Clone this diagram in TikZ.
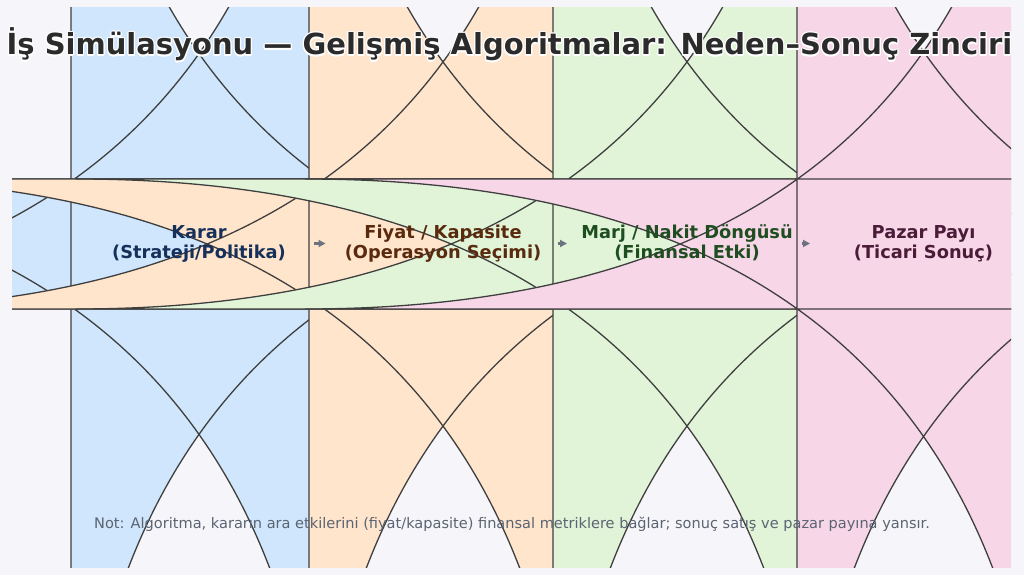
\documentclass[tikz,border=0pt]{standalone}
\usepackage{fontspec}
\setmainfont{DejaVu Sans}
\usetikzlibrary{arrows.meta,calc}
\definecolor{bgc}{HTML}{F6F6FA}
\definecolor{cblue}{HTML}{CFE6FC}
\definecolor{corange}{HTML}{FFE5CC}
\definecolor{cgreen}{HTML}{E1F4D8}
\definecolor{cpink}{HTML}{F7D6E8}
\definecolor{edgec}{HTML}{3F3F3F}
\definecolor{tblue}{HTML}{15305A}
\definecolor{tbrown}{HTML}{5A2A0E}
\definecolor{tgreen}{HTML}{1E4D20}
\definecolor{tpurple}{HTML}{4A1C38}
\definecolor{titlec}{HTML}{2B2B2B}
\definecolor{notec}{HTML}{5B6472}
\definecolor{arrowc}{HTML}{6B7280}
% matplotlib "round" box whose corner size exceeds the box: #1=x0, #2=x1, #3=fill
\newcommand\mplbox[3]{%
  \filldraw[boxedge, fill=#3]
    ({#1+745},309) -- ({#2-745},309)
    .. controls ({#2-248.33},309) and (#2,{309-248.33}) .. (#2,-436)
    -- (#2,924)
    .. controls (#2,{179+248.33}) and ({#2-248.33},179) .. ({#2-745},179)
    -- ({#1+745},179)
    .. controls ({#1+248.33},179) and (#1,{179+248.33}) .. (#1,924)
    -- (#1,-436)
    .. controls (#1,{309-248.33}) and ({#1+248.33},309) .. ({#1+745},309)
    -- cycle;}
\tikzset{
  boxedge/.style={draw=edgec, line width=1.3pt},
  boxtext/.style={font=\bfseries\fontsize{17.8}{20}\selectfont, anchor=base, inner sep=0pt},
  arrowline/.style={draw=arrowc, line width=3.2pt, -{Triangle[length=7pt,width=7pt]}},
  titletext/.style={font=\bfseries\fontsize{29}{34}\selectfont, anchor=base, inner sep=0pt},
  notetext/.style={font=\fontsize{14.55}{16}\selectfont, text=notec, anchor=base, inner sep=0pt}
}
\begin{document}
\begin{tikzpicture}[x=1pt,y=-1pt]
\useasboundingbox (0,0) rectangle (1024,575);
\fill[bgc] (0,0) rectangle (1024,575);
\begin{scope}
  \clip (12,8) rectangle (1011,567);
  \mplbox{71}{327}{cblue}
  \mplbox{309}{577}{corange}
  \mplbox{553}{821}{cgreen}
  \mplbox{797}{1050}{cpink}
\end{scope}
% arrows
\coordinate (a1s) at (314,243.5); \coordinate (a1e) at (325.5,243.5);
\coordinate (a2s) at (557.5,243.5); \coordinate (a2e) at (567,243.5);
\coordinate (a3s) at (801.5,243.5); \coordinate (a3e) at (810,243.5);
\draw[arrowline] (a1s) -- (a1e);
\draw[arrowline] (a2s) -- (a2e);
\draw[arrowline] (a3s) -- (a3e);
% box texts
\node[boxtext, text=tblue] (k1) at (199,238.5) {Karar};
\node[boxtext, text=tblue] (k2) at (199,258.5) {(Strateji/Politika)};
\node[boxtext, text=tbrown] (f1) at (443,238.5) {Fiyat / Kapasite};
\node[boxtext, text=tbrown] (f2) at (443,258.5) {(Operasyon Seçimi)};
\node[boxtext, text=tgreen] (m1) at (687,238.5) {Marj / Nakit Döngüsü};
\node[boxtext, text=tgreen] (m2) at (687,258.5) {(Finansal Etki)};
\node[boxtext, text=tpurple] (p1) at (923.5,238.5) {Pazar Payı};
\node[boxtext, text=tpurple] (p2) at (923.5,258.5) {(Ticari Sonuç)};
% title with white halo
\foreach \a in {0,30,...,330}{
  \node[titletext, text=white] at ($(509.5,55)+(\a:1.2pt)$) {İş Simülasyonu — Gelişmiş Algoritmalar: Neden–Sonuç Zinciri};
}
\node[titletext, text=titlec] (title) at (509.5,55) {İş Simülasyonu — Gelişmiş Algoritmalar: Neden–Sonuç Zinciri};
% note
\node[notetext] (note) at (512,528) {Not: Algoritma, kararın ara etkilerini (fiyat/kapasite) finansal metriklere bağlar; sonuç satış ve pazar payına yansır.};
\end{tikzpicture}
\end{document}
